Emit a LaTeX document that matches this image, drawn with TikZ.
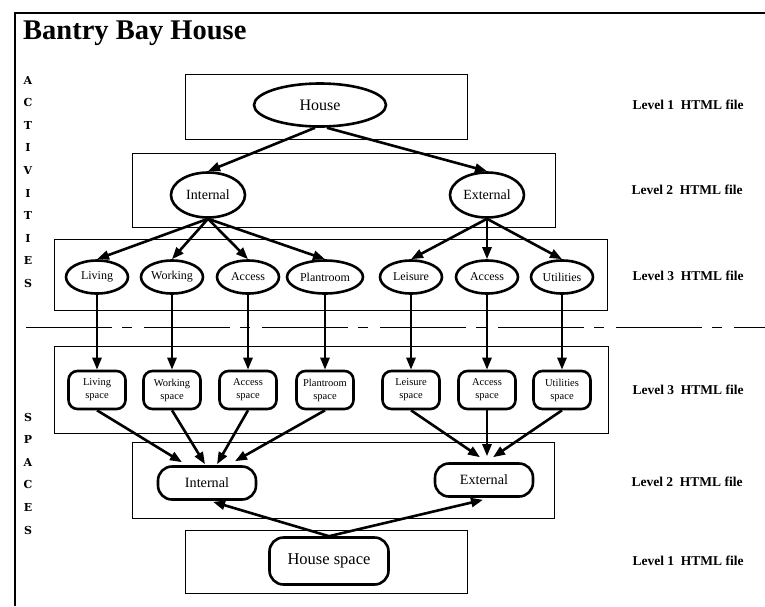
\documentclass[tikz,border=0pt]{standalone}
\usepackage{fontspec}
\setmainfont{Liberation Serif}
\newfontfamily\sidefont{DejaVu Serif}
\usetikzlibrary{calc,arrows.meta,shapes.geometric}

\begin{document}
\begin{tikzpicture}[x=1pt,y=-1pt,
  levelbox/.style={draw,line width=0.9pt},
  actnode/.style={draw,ellipse,line width=2.6pt,inner sep=0pt},
  spcnode/.style={draw,rounded corners=9pt,line width=2.6pt,inner sep=0pt,align=center},
  link/.style={line width=2.6pt,-{Triangle[length=12pt,width=9pt]}},
  leveltag/.style={font=\fontsize{13.5}{15}\selectfont\bfseries},
  sidetag/.style={font=\sidefont\fontsize{11}{11}\selectfont\bfseries}]
\useasboundingbox (0,0) rectangle (765,606);
\draw[line width=2.6pt] (765,13) -- (15,13) -- (15,606);
\node[anchor=south west,inner sep=0pt,font=\fontsize{28.5}{30}\selectfont\bfseries] (title) at (23,46) {Bantry Bay House};

\foreach \c [count=\i from 0] in {A,C,T,I,V,I,T,I,E,S}
  \node[sidetag] (act\i) at (28,80+22.6*\i) {\c};
\foreach \c [count=\i from 0] in {S,P,A,C,E,S}
  \node[sidetag] (spc\i) at (28,417+22.6*\i) {\c};

% level boxes
\draw[levelbox] (185,74) rectangle (467,139);
\draw[levelbox] (132,153) rectangle (555,227);
\draw[levelbox] (54,239) rectangle (607,310);
\draw[levelbox] (54,346) rectangle (608,433);
\draw[levelbox] (132,442) rectangle (554,518);
\draw[levelbox] (185,530) rectangle (467,593);

\draw[line width=1pt,dash pattern=on 86pt off 10pt on 10pt off 12pt] (26,327) -- (765,327);

% activities
\node[actnode,minimum width=132pt,minimum height=43pt,font=\fontsize{16}{18}\selectfont] (house) at (320,105) {House};
\node[actnode,minimum width=74pt,minimum height=45pt,font=\fontsize{14}{16}\selectfont] (int) at (208,195) {Internal};
\node[actnode,minimum width=74pt,minimum height=45pt,font=\fontsize{14}{16}\selectfont] (ext) at (487,195) {External};
\begin{scope}[every node/.style={actnode,minimum width=62pt,minimum height=33pt,font=\fontsize{12}{13}\selectfont}]
\node (living) at (97,277) {Living};
\node (working) at (172,277) {Working};
\node (access) at (248,277) {Access};
\node[minimum width=76pt] (plant) at (325,277) {Plantroom};
\node (leisure) at (411,277) {Leisure};
\node (access2) at (487,277) {Access};
\node (util) at (562,277) {Utilities};
\end{scope}

% spaces
\begin{scope}[every node/.style={spcnode,minimum width=57pt,minimum height=38pt,font=\fontsize{10.5}{13}\selectfont}]
\node (livingsp) at (97,390) {Living\\space};
\node (workingsp) at (172,390) {Working\\space};
\node (accesssp) at (248,390) {Access\\space};
\node (plantsp) at (325,390) {Plantroom\\space};
\node (leisuresp) at (411,390) {Leisure\\space};
\node (access2sp) at (487,390) {Access\\space};
\node (utilsp) at (562,390) {Utilities\\space};
\end{scope}
\node[spcnode,rounded corners=14pt,minimum width=98pt,minimum height=33pt,font=\fontsize{14.2}{16}\selectfont] (intsp) at (207,483) {Internal};
\node[spcnode,rounded corners=14pt,minimum width=98pt,minimum height=33pt,font=\fontsize{14.2}{16}\selectfont] (extsp) at (484,480) {External};
\node[spcnode,rounded corners=14pt,minimum width=119pt,minimum height=47pt,font=\fontsize{16.5}{18}\selectfont] (housesp) at (329,561) {House space};

% level tags
\node[leveltag] (t1) at (688,105) {Level 1\ \ HTML file};
\node[leveltag] (t2) at (687,190) {Level 2\ \ HTML file};
\node[leveltag] (t3) at (688,276) {Level 3\ \ HTML file};
\node[leveltag] (b3) at (688,390) {Level 3\ \ HTML file};
\node[leveltag] (b2) at (687,482) {Level 2\ \ HTML file};
\node[leveltag] (b1) at (688,561) {Level 1\ \ HTML file};

% arrows, activities
\draw[link] ($(house.south)+(-5,0)$) -- (int.north);
\draw[link] ($(house.south)+(7,0)$) -- (ext.north);
\foreach \n in {living,working,access,plant}
  \draw[link] (int.south) -- (\n.north);
\foreach \n in {leisure,access2,util}
  \draw[link] (ext.south) -- (\n.north);
\foreach \n in {living,working,access,plant,leisure,access2,util}
  \draw[link] (\n.south) -- (\n sp.north);

% arrows, spaces
\draw[link] (livingsp.south) -- ($(intsp.north)+(-25,-3)$);
\draw[link] (workingsp.south) -- ($(intsp.north)+(-2,-1)$);
\draw[link] (accesssp.south) -- ($(intsp.north)+(10,-1)$);
\draw[link] (plantsp.south) -- ($(intsp.north)+(28,-4)$);
\draw[link] (leisuresp.south) -- ($(extsp.north)+(-4,-5)$);
\draw[link] (access2sp.south) -- ($(extsp.north)+(3,-6)$);
\draw[link] (utilsp.south) -- ($(extsp.north)+(9,-5)$);
\draw[link] (housesp.north) -- ($(intsp.south)+(6,1)$);
\draw[link] (housesp.north) -- ($(extsp.south)+(-1,2)$);
\end{tikzpicture}
\end{document}
